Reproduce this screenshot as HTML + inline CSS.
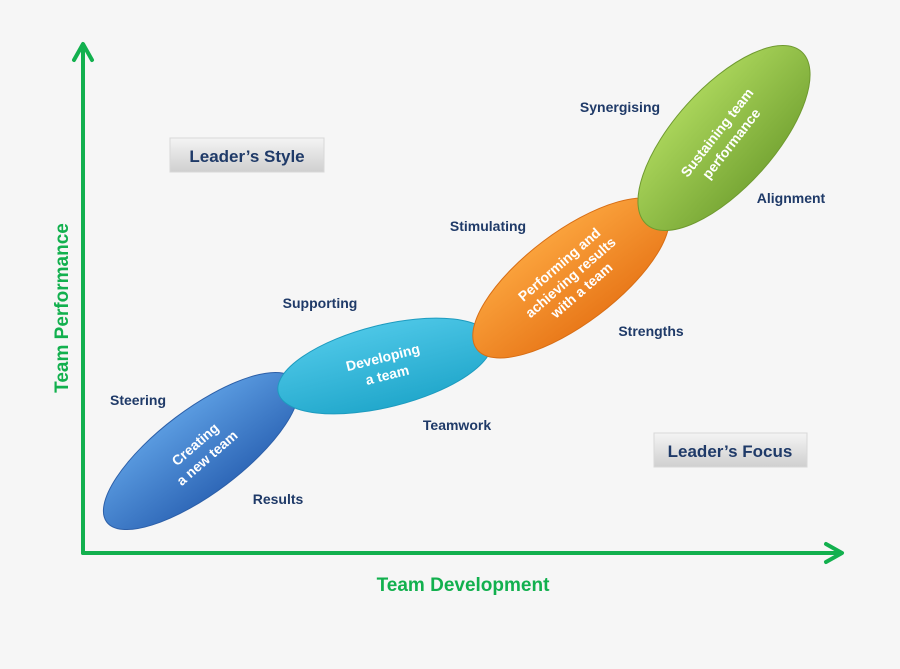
<!DOCTYPE html>
<html><head><meta charset="utf-8"><style>
html,body{margin:0;padding:0;background:#f6f6f6;}
svg{display:block;font-family:"Liberation Sans",sans-serif;font-weight:bold;}
</style></head><body>
<svg width="900" height="669" viewBox="0 0 900 669" xmlns="http://www.w3.org/2000/svg">
<defs>
<linearGradient id="gb" x1="0" y1="0" x2="0" y2="1"><stop offset="0" stop-color="#5a9be0"/><stop offset="1" stop-color="#2f68b8"/></linearGradient>
<linearGradient id="gc" x1="0" y1="0" x2="0" y2="1"><stop offset="0" stop-color="#4cc6e6"/><stop offset="1" stop-color="#22a8cc"/></linearGradient>
<linearGradient id="go" x1="0" y1="0" x2="0" y2="1"><stop offset="0" stop-color="#faa23c"/><stop offset="1" stop-color="#e9791a"/></linearGradient>
<linearGradient id="gg" x1="0" y1="0" x2="0" y2="1"><stop offset="0" stop-color="#a9d45a"/><stop offset="1" stop-color="#79a836"/></linearGradient>
<linearGradient id="gbox" x1="0" y1="0" x2="0" y2="1"><stop offset="0" stop-color="#f4f4f4"/><stop offset="1" stop-color="#cfcfcf"/></linearGradient>
</defs>
<g stroke="#12b04e" stroke-width="4" fill="none" stroke-linecap="round" stroke-linejoin="round">
<line x1="83" y1="553" x2="83" y2="46"/>
<polyline points="74,60 83,44 92,60"/>
<line x1="83" y1="553" x2="840" y2="553"/>
<polyline points="826,544 842,553 826,562"/>
</g>
<text x="0" y="0" transform="translate(68,308) rotate(-90)" text-anchor="middle" font-size="19" fill="#12b04e">Team Performance</text>
<text x="463" y="591" text-anchor="middle" font-size="19" fill="#12b04e">Team Development</text>
<rect x="170" y="138" width="154" height="34" fill="url(#gbox)" stroke="#d8d8d8"/>
<text x="247" y="162" text-anchor="middle" font-size="17" fill="#1f3a68">Leader’s Style</text>
<rect x="654" y="433" width="153" height="34" fill="url(#gbox)" stroke="#d8d8d8"/>
<text x="730" y="457" text-anchor="middle" font-size="17" fill="#1f3a68">Leader’s Focus</text>
<g transform="translate(201,451) rotate(-37)"><ellipse rx="118" ry="42" fill="url(#gb)" stroke="#2c5fa8" stroke-width="1"/>
<text transform="rotate(-4)" text-anchor="middle" font-size="14" fill="#fff"><tspan x="0" y="-4">Creating</tspan><tspan x="0" y="14">a new team</tspan></text></g>
<g transform="translate(385,366) rotate(-14)"><ellipse rx="110" ry="41" fill="url(#gc)" stroke="#1d9bbf" stroke-width="1"/>
<text text-anchor="middle" font-size="14" fill="#fff"><tspan x="0" y="-4">Developing</tspan><tspan x="0" y="14">a team</tspan></text></g>
<g transform="translate(571,278) rotate(-37)"><ellipse rx="118" ry="46" fill="url(#go)" stroke="#d86e15" stroke-width="1"/>
<text transform="rotate(-4)" text-anchor="middle" font-size="14" fill="#fff"><tspan x="0" y="-13">Performing and</tspan><tspan x="0" y="4">achieving results</tspan><tspan x="0" y="21">with a team</tspan></text></g>
<g transform="translate(724,138) rotate(-48)"><ellipse rx="116" ry="50" fill="url(#gg)" stroke="#6f9a30" stroke-width="1"/>
<text transform="rotate(-4)" text-anchor="middle" font-size="14" fill="#fff"><tspan x="0" y="-4">Sustaining team</tspan><tspan x="0" y="14">performance</tspan></text></g>
<g font-size="14" fill="#1f3a68">
<text x="138" y="405" text-anchor="middle">Steering</text>
<text x="278" y="504" text-anchor="middle">Results</text>
<text x="320" y="308" text-anchor="middle">Supporting</text>
<text x="457" y="430" text-anchor="middle">Teamwork</text>
<text x="488" y="231" text-anchor="middle">Stimulating</text>
<text x="651" y="336" text-anchor="middle">Strengths</text>
<text x="620" y="112" text-anchor="middle">Synergising</text>
<text x="791" y="203" text-anchor="middle">Alignment</text>
</g>
</svg>
</body></html>
